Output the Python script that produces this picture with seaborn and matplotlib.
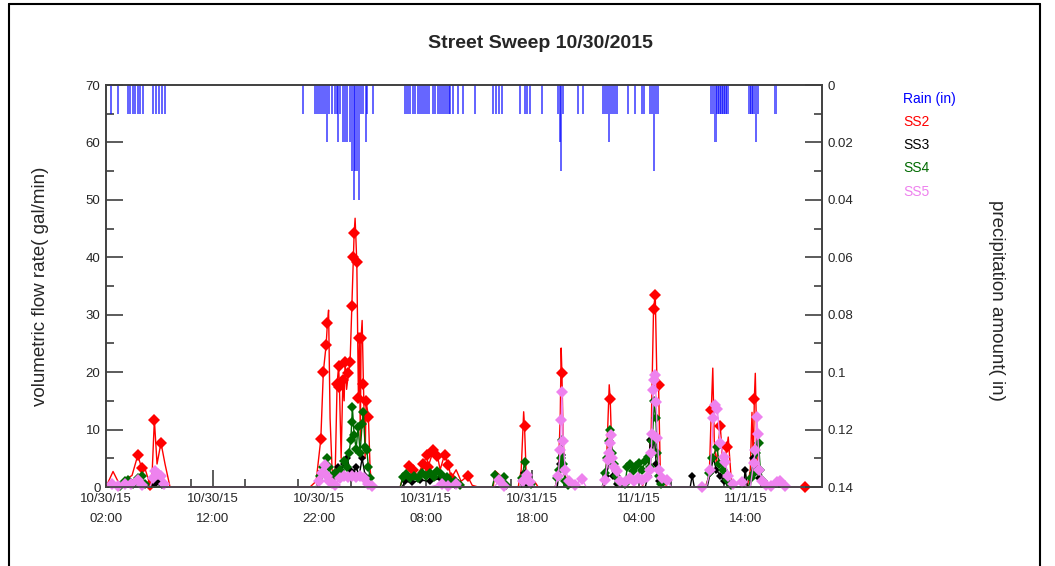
import matplotlib
matplotlib.use("Agg")
import matplotlib.pyplot as plt
from matplotlib.lines import Line2D
from matplotlib.ticker import MultipleLocator
import pandas as pd
import seaborn as sns

# time axis: hours elapsed since 10/30/15 00:00
rain_hours = [2.44, 3.13, 4.07, 4.25, 4.54, 4.72, 5.00, 5.19, 5.47, 6.41, 6.69, 6.98, 7.26, 7.54,
              20.50, 21.62, 21.81, 22.00, 22.19, 22.38, 22.56, 22.75, 22.94, 23.22, 23.50, 23.69, 23.79, 23.97,
              24.25, 24.44, 24.63, 24.91, 25.10, 25.29, 25.38, 25.57, 25.76, 25.94, 26.13, 26.41, 26.51, 27.07,
              30.08, 30.29, 30.54, 30.80, 31.01, 31.32, 31.55, 31.79, 32.05, 32.26, 32.68, 32.89, 33.20, 33.43,
              33.67, 33.92, 34.14, 34.30, 34.58, 35.05, 35.52, 36.65,
              38.34, 38.62, 38.90, 39.18, 40.87, 41.34, 41.53, 41.81, 42.94,
              44.44, 44.63, 44.72, 44.91, 46.32, 46.79,
              48.67, 48.85, 49.04, 49.23, 49.42, 49.61, 49.79, 49.98, 51.01, 51.67, 52.33, 52.52,
              53.08, 53.27, 53.46, 53.64, 53.83,
              58.81, 59.00, 59.19, 59.38, 59.57, 59.76, 59.95, 60.14, 60.32,
              62.38, 62.57, 62.76, 63.03, 63.22, 64.82]
rain_in = [0.01] * 14 + \
          [0.01, 0.01, 0.01, 0.01, 0.01, 0.01, 0.01, 0.02, 0.01, 0.01, 0.01, 0.01, 0.02, 0.01,
           0.02, 0.02, 0.02, 0.02, 0.03, 0.04, 0.03, 0.03, 0.04, 0.01, 0.01, 0.02, 0.01, 0.01] + \
          [0.01] * 22 + \
          [0.01] * 9 + \
          [0.01, 0.02, 0.03, 0.01, 0.01, 0.01] + \
          [0.01, 0.01, 0.01, 0.02, 0.01, 0.01, 0.01, 0.01, 0.01, 0.01, 0.01, 0.01] + \
          [0.01, 0.01, 0.03, 0.01, 0.01] + \
          [0.01, 0.01, 0.02, 0.01, 0.01, 0.01, 0.01, 0.01, 0.01] + \
          [0.01, 0.01, 0.01, 0.02, 0.01, 0.01]

ss2_hours = [2.00, 2.66, 3.31, 3.97, 4.44, 4.98, 5.35, 5.66, 6.13, 6.32, 6.54, 6.79, 7.16, 7.54, 8.01,
             21.15, 21.72, 22.16, 22.40, 22.66, 22.78, 22.89, 23.03, 23.22, 23.50, 23.69, 23.83, 23.91, 24.07,
             24.23, 24.35, 24.44, 24.58, 24.75, 24.91, 25.07, 25.22, 25.29, 25.38, 25.54, 25.69, 25.79, 25.87,
             25.94, 26.04, 26.16, 26.32, 26.41, 26.63, 26.79, 26.98,
             29.61, 29.89, 30.48, 30.86, 31.20, 31.79, 32.11, 32.23, 32.73, 33.11, 33.36, 33.77, 34.14, 34.39,
             34.86, 35.33, 35.93, 36.37, 36.93,
             38.34, 38.53, 39.00, 39.37, 39.75,
             40.69, 40.97, 41.20, 41.28, 41.44, 41.81, 42.28, 42.56,
             44.16, 44.44, 44.63, 44.72, 44.79, 44.91, 45.10, 45.38, 45.76,
             48.67, 48.95, 49.23, 49.32, 49.51, 49.79, 50.26, 50.73,
             52.33, 52.61, 52.89, 53.17, 53.39, 53.55, 53.69, 53.86, 54.02, 54.30, 54.68,
             58.25, 58.62, 58.81, 58.95, 59.09, 59.28, 59.65, 59.93, 60.28, 60.40, 60.69, 61.06,
             62.19, 62.47, 62.63, 62.75, 62.85, 62.94, 63.13, 63.41, 63.79,
             67.63]
ss2_flow = [0, 2.7, 0.3, 1.5, 2.0, 5.5, 3.3, 3.2, 0.4, 2.0, 11.7, 4.0, 7.7, 4.0, 0,
            0, 1, 8.3, 20.1, 24.7, 28.5, 30.8, 12, 3, 1.5, 18, 21, 17.5, 5,
            18.6, 15, 21.8, 17, 19.8, 21.8, 31.5, 40.1, 44.2, 46.8, 39.1, 15.5, 25.9, 8,
            26, 29, 18, 5, 15, 12.2, 3, 0,
            0, 2.0, 3.7, 3.0, 2.0, 4.0, 5.6, 3.5, 6.4, 5.4, 3.0, 5.6, 3.9, 1.5,
            3.0, 1.0, 1.9, 0.3, 0,
            0, 2.8, 2.0, 0.5, 0,
            0, 3, 13.1, 10.6, 2, 1.5, 0.8, 0,
            0, 2, 12, 24.2, 19.8, 8, 2, 0.5, 0,
            0, 3, 17.8, 15.4, 4, 2, 0.5, 0,
            0, 2, 3, 10, 31.0, 33.5, 20, 17.8, 3, 1, 0,
            0, 2, 13.4, 20.7, 8, 4, 10.7, 3, 7.0, 8.7, 1, 0,
            0, 3, 13, 4, 15.4, 19.8, 3, 1, 0,
            0]
# short SS2 surges that show only as line, without a sample marker
ss2_surge_hours = [2.66, 3.31, 3.97, 4.44, 5.66, 6.32, 6.79, 7.54, 21.72, 22.89, 23.03, 23.22, 23.50,
                   24.07, 24.35, 24.58, 25.38, 25.87, 26.04, 26.32, 26.79,
                   29.89, 31.20, 33.36, 34.86, 35.33, 36.37, 38.53, 39.00, 39.37,
                   40.97, 41.20, 41.44, 41.81, 42.28, 44.44, 44.63, 44.72, 44.91, 45.10, 45.38,
                   48.95, 49.23, 49.51, 49.79, 50.26, 52.61, 52.89, 53.17, 53.69, 54.02, 54.30,
                   58.62, 58.95, 59.09, 59.28, 59.93, 60.40, 60.69,
                   62.47, 62.63, 62.75, 62.94, 63.13, 63.41]

ss3_hours = [2.00, 4.07, 4.54, 5.00, 6.13, 6.60, 6.88, 7.26, 7.63,
             21.72, 22.09, 22.47, 22.85, 23.22, 23.50, 23.79, 24.07, 24.35, 24.63, 24.91, 25.19, 25.48,
             25.76, 26.04, 26.32, 26.60, 26.88,
             29.79, 30.08, 30.73, 31.48, 32.42, 33.36, 34.11, 34.77, 35.24,
             40.97, 41.25, 41.53, 41.91,
             44.35, 44.63, 44.82, 45.10, 45.38,
             48.76, 48.95, 49.32, 49.60, 49.98, 50.36,
             52.61, 52.89, 53.08, 53.27, 53.46, 53.64, 53.92, 54.21,
             56.83, 57.02, 57.21,
             58.43, 58.72, 59.00, 59.28, 59.65, 60.03, 60.40,
             61.81, 62.00, 62.19,
             62.47, 62.75, 63.03, 63.32, 63.50,
             69.20]
ss3_flow = [0, 0.5, 0, 0.8, 0, 0.5, 1.0, 0.3, 0,
            0, 1, 2.5, 1.5, 0.5, 2.5, 3.5, 2.8, 4.0, 5.0, 3.0, 2.5, 3.5,
            2.0, 5.0, 2.0, 0.5, 0,
            0, 1.0, 0.8, 1.2, 1.0, 1.5, 0.8, 0.3, 0,
            0, 2.5, 0.5, 0,
            0, 4.0, 5.5, 1, 0,
            0, 2, 5, 2, 0.5, 0,
            0, 2, 8.2, 6, 9, 4, 1, 0,
            0, 2, 0,
            0, 2.5, 5, 3, 2, 1, 0,
            0, 3, 0,
            0, 5, 3, 1.5, 0,
            0]

ss4_hours = [2.00, 3.31, 3.78, 4.09, 4.54, 5.00, 5.35, 5.66, 6.13,
             21.72, 22.09, 22.38, 22.72, 22.94, 23.19, 23.50, 23.97, 24.35, 24.63, 24.82, 24.97, 25.07,
             25.12, 25.29, 25.48, 25.66, 25.85, 26.04, 26.16, 26.32, 26.48, 26.63, 26.79, 27.07,
             29.61, 29.89, 30.17, 30.55, 30.92, 31.30, 31.67, 32.05, 32.42, 32.80, 33.11, 33.46, 33.74,
             34.02, 34.39, 34.77, 35.24, 35.71,
             38.25, 38.53, 38.90, 39.31, 39.56, 39.84,
             40.87, 41.06, 41.28, 41.44, 41.62, 41.91, 42.28,
             44.16, 44.35, 44.53, 44.67, 44.79, 44.91, 45.10, 45.38, 45.66,
             48.57, 48.85, 49.04, 49.23, 49.32, 49.51, 49.70, 49.89, 50.17, 50.54,
             50.73, 50.92, 51.20, 51.48, 51.77, 52.05, 52.33, 52.61, 52.89, 53.08,
             53.27, 53.46, 53.60, 53.74, 53.92, 54.11, 54.39,
             58.34, 58.62, 58.90, 59.34, 59.56, 59.92, 60.27, 60.69, 61.06,
             62.28, 62.56, 62.78, 63.03, 63.25, 63.41, 63.69, 63.98,
             69.20]
ss4_flow = [0, 0.2, 1.0, 1.3, 0.5, 1.6, 2.0, 0.5, 0,
            0, 2, 3.5, 5.0, 3.5, 1.5, 2.5, 3.0, 4.5, 3.5, 6, 8.2, 11.4,
            14.0, 9, 6.7, 10.5, 6, 11, 13.1, 7, 6.4, 3.5, 1.5, 0,
            0, 1.8, 2.3, 1.5, 2.0, 1.6, 2.4, 2.0, 2.5, 1.8, 2.7, 2.2, 1.5,
            1.8, 0.8, 1.0, 0.3, 0,
            0, 2.1, 1.2, 1.8, 0.3, 0,
            0, 1.5, 4.4, 2, 1.0, 0.5, 0,
            0, 1.5, 3, 5.1, 8.2, 4, 1, 0.3, 0,
            0, 2.4, 5, 8, 9.9, 6, 4.0, 2.0, 0.8, 0,
            0.5, 3.5, 4.0, 2.8, 3.6, 4.2, 3.0, 4.5, 5.3, 3.5,
            8, 15.0, 12, 6, 2, 0.5, 0,
            0, 2.5, 5.0, 7.0, 4.0, 3.0, 1.2, 0.3, 0,
            0, 1.5, 2.4, 6, 7.6, 3, 1, 0,
            0]

ss5_hours = [2.00, 2.54, 3.13, 3.78, 4.35, 4.97, 5.38, 6.13, 6.41, 6.59, 6.88, 7.13, 7.44, 7.82,
             21.72, 22.00, 22.25, 22.56, 22.75, 22.94, 23.19, 23.50, 23.97, 24.35, 24.72, 25.10, 25.48,
             25.85, 26.23, 26.60, 26.98, 27.48,
             32.42, 33.52, 34.11, 34.86, 35.43,
             38.44, 38.93, 39.37, 39.75,
             40.87, 41.15, 41.50, 41.81, 42.19,
             44.16, 44.44, 44.63, 44.72, 44.79, 44.91, 45.10, 45.47, 46.03, 46.66, 47.07,
             48.57, 48.85, 49.08, 49.23, 49.29, 49.36, 49.51, 49.70, 49.95, 50.26, 50.73,
             51.20, 51.58, 51.95, 52.33, 52.80, 53.08,
             53.17, 53.24, 53.36, 53.46, 53.55, 53.64, 53.74, 53.92, 54.17, 54.64, 55.05,
             57.93,
             58.34, 58.72, 59.00, 59.19, 59.38, 59.65, 59.96, 60.11, 60.40, 60.87, 61.68, 62.09,
             62.47, 62.78, 62.94, 63.09, 63.17, 63.32, 63.60, 63.98, 64.44, 64.97, 65.28, 65.76, 66.23,
             69.20]
ss5_flow = [0, 0.5, 0.2, 0.5, 0.6, 1.3, 0.3, 0, 1.5, 2.7, 2.3, 2.0, 0.5, 0,
            0, 1.0, 2.4, 3.8, 2.0, 1.0, 0.7, 0.3, 1.5, 1.9, 1.8, 2.0, 1.8,
            2.0, 1.5, 0.5, 0.2, 0,
            0, 0.6, 0.1, 0.6, 0,
            0, 1.2, 0.2, 0,
            0, 1.0, 2.1, 0.8, 0,
            0, 2, 6.4, 11.7, 16.6, 8, 3.0, 1.0, 0.3, 1.4, 0,
            0, 1.2, 4.7, 5.9, 7.6, 9.1, 5, 3.5, 2.7, 1.0, 0.9,
            1.5, 1.0, 1.6, 1.2, 1.8, 3,
            6, 9.3, 16.9, 18.7, 19.5, 14.8, 8.5, 3, 1.5, 1.2, 0,
            0,
            0, 3, 12, 14.3, 13.5, 7.6, 5.3, 4.4, 2, 0.5, 0.9, 0,
            0, 4.1, 6.4, 12.2, 9.3, 3, 1.0, 0.3, 0.2, 0.9, 1.1, 0.2, 0,
            0]

tick_hours = [2, 12, 22, 32, 42, 52, 62]
tick_labels = ["10/30/15\n02:00", "10/30/15\n12:00", "10/30/15\n22:00", "10/31/15\n08:00",
               "10/31/15\n18:00", "11/1/15\n04:00", "11/1/15\n14:00"]
rain_ticks = [0, 0.02, 0.04, 0.06, 0.08, 0.1, 0.12, 0.14]
rain_tick_labels = ["0", "0.02", "0.04", "0.06", "0.08", "0.1", "0.12", "0.14"]


def marked_points(hrs, vals, skip=()):
    '''indices that get a diamond: non-zero samples and lone zero samples'''
    idx = []
    n = len(vals)
    for i, (h, v) in enumerate(zip(hrs, vals)):
        if h in skip or i == 0:
            continue
        if v > 0:
            idx.append(i)
        elif vals[i - 1] == 0 and (i == n - 1 or vals[i + 1] == 0) and h < 69:
            idx.append(i)
    return idx


sns.set_style("ticks")
plt.rcParams['font.family'] = ['Liberation Sans', 'DejaVu Sans']

W, H = 1055, 566
fig = plt.figure(figsize=(W / 100, H / 100), dpi=100)
ax = fig.add_axes([106 / W, 1 - 487 / H, (822 - 106) / W, (487 - 85) / H])
ax2 = ax.twinx()

# flow series (SS5 drawn last so it sits on top)
series = [("SS2", ss2_hours, ss2_flow, "#ff0000", 6.5, ss2_surge_hours),
          ("SS3", ss3_hours, ss3_flow, "#000000", 4, ()),
          ("SS4", ss4_hours, ss4_flow, "#006a00", 5, ()),
          ("SS5", ss5_hours, ss5_flow, "#ee82ee", 6.5, ())]
for name, hrs, vals, col, ms, skip in series:
    df = pd.DataFrame({"hours": hrs, "flow": vals})
    sns.lineplot(data=df, x="hours", y="flow", ax=ax, color=col, linewidth=1.0,
                 marker="D", markersize=ms, markeredgewidth=0, estimator=None,
                 markevery=marked_points(hrs, vals, skip),
                 sort=False, clip_on=False, zorder=3)

# rain hanging from the top (inverted right axis)
ax2.bar(rain_hours, rain_in, width=0.22, color="#0000ff", alpha=0.6, linewidth=0, align="center")
ax2.set_ylim(0.14, 0)
ax2.set_yticks(rain_ticks)
ax2.set_yticklabels(rain_tick_labels)
ax2.yaxis.set_minor_locator(MultipleLocator(0.01))

ax.set_xlim(2, 69.2)
ax.set_ylim(0, 70)
ax.set_xticks(tick_hours)
ax.set_xticklabels(tick_labels, linespacing=1.9)
ax.xaxis.set_minor_locator(MultipleLocator(5))
ax.yaxis.set_major_locator(MultipleLocator(10))
ax.yaxis.set_minor_locator(MultipleLocator(5))

for a in (ax, ax2):
    a.tick_params(which="major", direction="in", length=12, width=1.2, color="#404040",
                  labelsize=9.5, pad=4)
    a.tick_params(which="minor", direction="in", length=6, width=1.2, color="#404040")
    for sp in a.spines.values():
        sp.set_visible(True)
        sp.set_color("#404040")
        sp.set_linewidth(1.2)
ax2.tick_params(which="both", top=False, bottom=False)

ax.set_xlabel("")
ax.set_ylabel("volumetric flow rate( gal/min)", fontsize=13.5)
ax.yaxis.set_label_coords(-0.08, 0.5)
ax2.set_ylabel("precipitation amount( in)", fontsize=13.5, rotation=-90, va="center")
ax2.yaxis.set_label_coords(1.244, 0.465)

fig.text(540 / W, 1 - 44 / H, "Street Sweep 10/30/2015", ha="center", va="center",
         fontsize=14, fontweight="bold")

# legend: coloured labels only
handles = [Line2D([], [], color=c) for c in ["#0000ff", "#ff0000", "#000000", "#006a00", "#ee82ee"]]
leg = ax.legend(handles, ["Rain (in)", "SS2", "SS3", "SS4", "SS5"], loc="upper left",
                bbox_to_anchor=(896 / W, 1 - 85 / H), bbox_transform=fig.transFigure,
                frameon=False, handlelength=0, handletextpad=0, borderpad=0,
                labelspacing=0.66, fontsize=10, labelcolor="linecolor")
for h in leg.legend_handles:
    h.set_visible(False)

# screenshot frame
fig.add_artist(Line2D([9 / W, 9 / W], [0, 1 - 4 / H], color="black", lw=1.5, transform=fig.transFigure))
fig.add_artist(Line2D([9 / W, 1040 / W], [1 - 4 / H, 1 - 4 / H], color="black", lw=1.5,
                      transform=fig.transFigure))
fig.add_artist(Line2D([1040 / W, 1040 / W], [0, 1 - 4 / H], color="black", lw=1.5, transform=fig.transFigure))

fig.savefig("out.png", dpi=100)
